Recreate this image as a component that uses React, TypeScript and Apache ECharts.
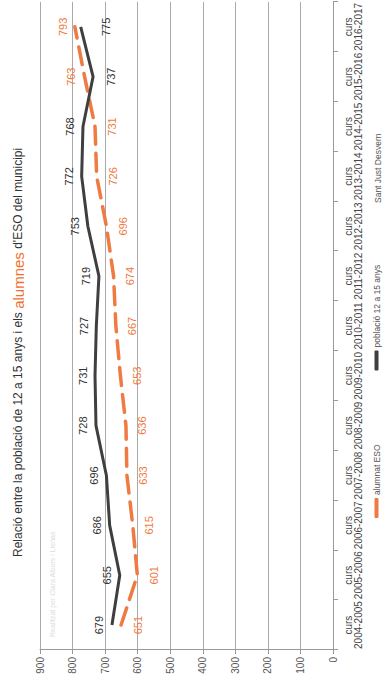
import React, { useEffect, useRef } from "react";
import * as echarts from "echarts";

const categories = [
  "2004-2005", "2005-2006", "2006-2007", "2007-2008", "2008-2009", "2009-2010",
  "2010-2011", "2011-2012", "2012-2013", "2013-2014", "2014-2015", "2015-2016", "2016-2017",
];
const poblacio = [679, 655, 686, 696, 728, 731, 727, 719, 753, 772, 768, 737, 775];
const alumnat = [651, 601, 615, 633, 636, 653, 667, 674, 696, 726, 731, 763, 793];
const valueMin = 0;
const valueMax = 900;
const valueStep = 100;

const seriesNames = ["alumnat ESO", "població 12 a 15 anys"];
const titleParts = ["Relació entre la població de 12 a 15 anys i els ", "alumnes", " d'ESO del municipi"];
const sourceText = "Sant Just Desvern";
const creditText = "Realitzat per Clara Albors i Llenas";

const FONT = "'Liberation Sans', Arial, sans-serif";
const ORANGE = "#ef7b42";
const DARK = "#3f3f3f";

// label placement overrides (index -> [position, distance])
const poblacioLabelOverrides: Record<number, [string, number]> = { 11: ["bottom", 12], 12: ["bottom", 20] };
const alumnatLabelOverrides: Record<number, [string, number]> = { 11: ["top", 8], 12: ["top", 6] };

export default function App() {
  const ref = useRef<HTMLDivElement>(null);

  useEffect(() => {
    if (!ref.current) return;
    const chart = echarts.init(ref.current, null, { renderer: "svg", width: 680, height: 390 });

    const pobData = poblacio.map((v, i) => {
      const o = poblacioLabelOverrides[i];
      return o ? { value: v, label: { position: o[0], distance: o[1] } } : v;
    });
    const aluData = alumnat.map((v, i) => {
      const o = alumnatLabelOverrides[i];
      return o ? { value: v, label: { position: o[0], distance: o[1] } } : v;
    });

    chart.setOption({
      animation: false,
      backgroundColor: "#ffffff",
      textStyle: { fontFamily: FONT },
      grid: { left: 30, right: 0, top: 40, bottom: 57, containLabel: false },
      legend: {
        data: seriesNames,
        left: 162,
        top: 372,
        padding: 0,
        itemWidth: 20,
        itemHeight: 4,
        itemGap: 74,
        icon: "roundRect",
        textStyle: { fontFamily: FONT, fontSize: 8.5, color: "#555", padding: [0, 0, 0, -2] },
      },
      xAxis: {
        type: "category",
        data: categories.map((c) => "curs\n" + c),
        boundaryGap: true,
        axisLine: { lineStyle: { color: "#999", width: 1 } },
        axisTick: { show: true, length: 5, lineStyle: { color: "#999" } },
        axisLabel: {
          fontFamily: FONT,
          fontSize: 10,
          lineHeight: 10,
          color: "#444",
          margin: 10,
          interval: 0,
        },
      },
      yAxis: {
        type: "value",
        min: valueMin,
        max: valueMax,
        interval: valueStep,
        axisLine: { show: true, lineStyle: { color: "#999", width: 1 } },
        axisTick: { show: true, length: 4, lineStyle: { color: "#999" } },
        axisLabel: { fontFamily: FONT, fontSize: 10, color: "#555", margin: 7 },
        splitLine: { show: true, lineStyle: { color: "#aaaaaa", width: 1 } },
      },
      series: [
        {
          name: seriesNames[1],
          type: "line",
          data: pobData,
          showSymbol: true,
          symbol: "circle",
          symbolSize: 0,
          color: DARK,
          lineStyle: { color: DARK, width: 3, join: "round" },
          label: {
            show: true,
            position: "top",
            distance: 7,
            fontFamily: FONT,
            fontSize: 11,
            color: "#333",
          },
          z: 3,
        },
        {
          name: seriesNames[0],
          type: "line",
          data: aluData,
          showSymbol: true,
          symbol: "circle",
          symbolSize: 0,
          color: ORANGE,
          lineStyle: { color: ORANGE, width: 3.5, type: [18, 9], cap: "round" },
          label: {
            show: true,
            position: "bottom",
            distance: 11,
            fontFamily: FONT,
            fontSize: 11,
            color: ORANGE,
          },
          z: 2,
        },
      ],
      graphic: [
        {
          type: "text",
          x: 123,
          y: 18,
          style: {
            text: "{a|" + titleParts[0] + "}{b|" + titleParts[1] + "}{a|" + titleParts[2] + "}",
            verticalAlign: "middle",
            rich: {
              a: { fontFamily: FONT, fontSize: 12, fill: "#333" },
              b: { fontFamily: FONT, fontSize: 15, fill: "#f26f2c" },
            },
          },
        },
        {
          type: "text",
          x: 43,
          y: 52,
          style: {
            text: creditText,
            fontFamily: FONT,
            fontSize: 7,
            fill: "#dcdcdc",
            verticalAlign: "middle",
          },
        },
        {
          type: "text",
          x: 477,
          y: 378,
          style: {
            text: sourceText,
            fontFamily: FONT,
            fontSize: 8.5,
            fill: "#555",
            verticalAlign: "middle",
          },
        },
      ],
    });

    return () => chart.dispose();
  }, []);

  return (
    <div
      style={{
        position: "fixed",
        left: 0,
        top: 0,
        width: 390,
        height: 680,
        overflow: "hidden",
        background: "#fff",
      }}
    >
      <div
        ref={ref}
        style={{
          position: "absolute",
          left: -145,
          top: 145,
          width: 680,
          height: 390,
          transform: "rotate(-90deg)",
          transformOrigin: "50% 50%",
        }}
      />
    </div>
  );
}
